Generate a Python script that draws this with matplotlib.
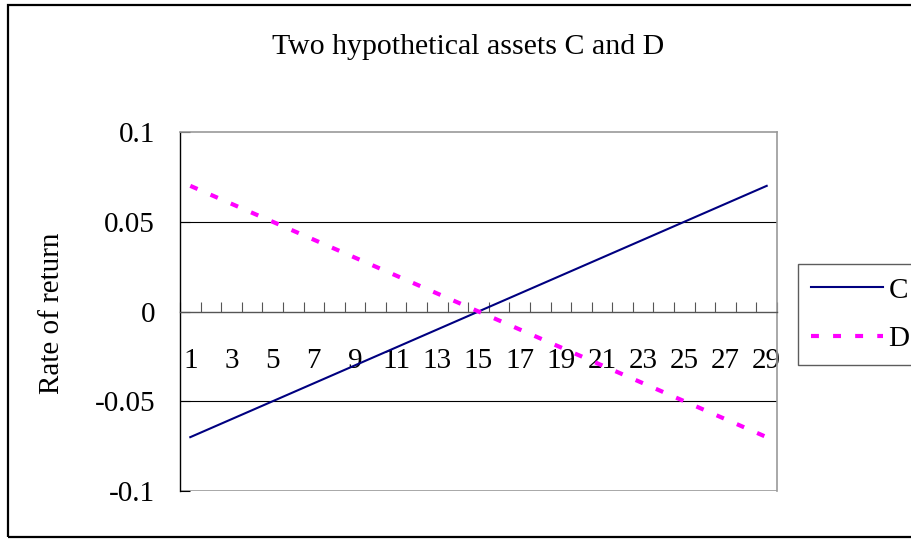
import matplotlib
matplotlib.use("Agg")
import matplotlib.pyplot as plt
from matplotlib.patches import Rectangle
from matplotlib.ticker import FixedLocator, NullFormatter, FixedFormatter
import numpy as np

periods = list(range(1, 30))
asset_c = [-0.070, -0.065, -0.060, -0.055, -0.050, -0.045, -0.040, -0.035, -0.030, -0.025,
           -0.020, -0.015, -0.010, -0.005, 0.000, 0.005, 0.010, 0.015, 0.020, 0.025,
           0.030, 0.035, 0.040, 0.045, 0.050, 0.055, 0.060, 0.065, 0.070]
asset_d = [0.070, 0.065, 0.060, 0.055, 0.050, 0.045, 0.040, 0.035, 0.030, 0.025,
           0.020, 0.015, 0.010, 0.005, 0.000, -0.005, -0.010, -0.015, -0.020, -0.025,
           -0.030, -0.035, -0.040, -0.045, -0.050, -0.055, -0.060, -0.065, -0.070]
x_tick_labels = [str(p) for p in periods[::2]]
y_ticks = [-0.1, -0.05, 0, 0.05, 0.1]
y_tick_labels = ["-0.1", "-0.05", "0", "0.05", "0.1"]
title = "Two hypothetical assets C and D"
ylabel = "Rate of return"

plt.rcParams['font.family'] = ['Liberation Serif', 'DejaVu Serif']
FS = 21

W, H = 911, 539
fig = plt.figure(figsize=(W / 100, H / 100), dpi=100)
fig.patch.set_facecolor('white')

# outer chart border
fig.patches.append(Rectangle((8 / W, 1 - 537 / H), 1.0, 532 / H, transform=fig.transFigure,
                             fill=False, edgecolor='black', linewidth=1.6))

ax = fig.add_axes([180 / W, 1 - 491 / H, 597 / W, 359 / H])
ax.set_xlim(0.5, 29.5)
ax.set_ylim(-0.1, 0.1)

# gridlines
for gy in [-0.05, 0.05]:
    ax.axhline(gy, color='black', linewidth=0.8, zorder=1)
ax.axhline(-0.1, color='#999999', linewidth=1.2, zorder=1)

ax.plot(periods, asset_c, color='#000080', linewidth=1.5, label='C', zorder=3)
ax.plot(periods, asset_d, color='#FF00FF', linewidth=3, linestyle=(0, (1.9, 3.4)),
        dash_capstyle='butt', label='D', zorder=3)

for s in ['top', 'right']:
    ax.spines[s].set_color('#999999')
    ax.spines[s].set_linewidth(1.2)
ax.spines['left'].set_color('black')
ax.spines['left'].set_linewidth(1.0)
ax.spines['bottom'].set_position(('data', 0))
ax.spines['bottom'].set_color('#555555')
ax.spines['bottom'].set_linewidth(1.0)

ax.xaxis.set_major_locator(FixedLocator(np.arange(0.5, 30, 1)))
ax.xaxis.set_major_formatter(NullFormatter())
ax.xaxis.set_minor_locator(FixedLocator(periods[::2]))
ax.xaxis.set_minor_formatter(FixedFormatter(x_tick_labels))
ax.tick_params(axis='x', which='major', direction='in', length=7, width=0.8, color='#555555')
ax.tick_params(axis='x', which='minor', length=0, pad=26, labelsize=FS)

ax.set_yticks(y_ticks)
ax.set_yticklabels(y_tick_labels)
ax.tick_params(axis='y', direction='in', length=7, width=0.8, color='black', pad=18, labelsize=FS)

fig.text(468 / W, 1 - 47 / H, title, ha='center', va='center', fontsize=FS + 0.5)
fig.text(52 / W, 1 - 313 / H, ylabel, ha='center', va='center', rotation=90, fontsize=FS)

leg = ax.legend(loc='upper left', bbox_to_anchor=(798 / W, 1 - 264 / H),
                bbox_transform=fig.transFigure, fontsize=FS, frameon=True, fancybox=False,
                borderaxespad=0, handlelength=2.45, handletextpad=0.2, borderpad=0.45,
                labelspacing=0.75)
leg.get_frame().set_edgecolor('#333333')
leg.get_frame().set_linewidth(1.0)

fig.savefig('out.png', dpi=100)
